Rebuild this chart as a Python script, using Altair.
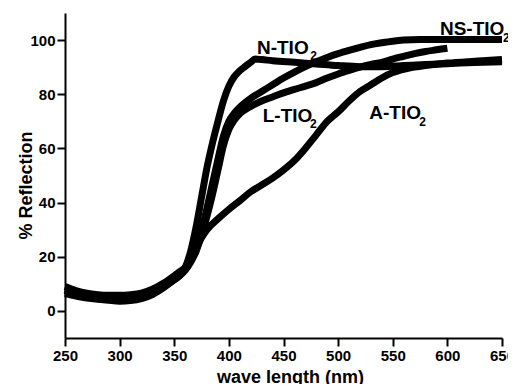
import altair as alt
import pandas as pd

# ---- data ----
wl_N = [250, 260, 270, 280, 290, 300, 310, 320, 330, 340, 350, 355, 360, 365, 370, 375, 380, 385, 390, 395,
        400, 405, 410, 415, 420, 424, 430, 440, 460, 480, 500, 520, 540, 560, 580, 600, 625, 650]
refl_N = [8.0, 6.5, 5.5, 4.8, 4.3, 4.0, 4.2, 5.0, 6.5, 8.8, 11.5, 13.0, 16.0, 22.0, 31.0, 42.0, 53.0, 62.0, 70.0, 77.5,
          83.0, 86.5, 88.7, 90.3, 91.8, 93.0, 92.8, 92.4, 91.8, 91.2, 90.6, 90.2, 90.2, 90.6, 91.0, 91.3, 91.7, 92.0]

wl_L = [250, 260, 270, 280, 290, 300, 310, 320, 330, 340, 350, 355, 360, 365, 370, 375, 380, 385, 390, 395,
        400, 405, 410, 420, 430, 440, 450, 460, 470, 480, 490, 500, 510, 520, 530, 540, 550, 560, 570, 580, 590, 600]
refl_L = [6.5, 5.5, 4.8, 4.3, 3.9, 3.6, 3.8, 4.5, 6.0, 8.5, 11.5, 13.0, 15.0, 18.0, 22.0, 28.0, 35.0, 43.0, 52.0, 61.0,
          67.0, 70.5, 72.8, 75.5, 77.5, 79.0, 80.5, 81.8, 83.0, 84.3, 86.0, 87.5, 88.8, 90.0, 91.0, 91.8, 93.0, 94.0, 95.0, 95.8, 96.4, 97.0]

wl_NS = [250, 260, 270, 280, 290, 300, 310, 320, 330, 340, 350, 355, 360, 365, 370, 375, 380, 385, 390, 395,
         400, 405, 410, 420, 430, 440, 450, 460, 470, 480, 490, 500, 510, 520, 530, 540, 550, 560, 575, 600, 625, 650]
refl_NS = [9.0, 7.5, 6.5, 6.0, 5.8, 5.8, 6.0, 6.6, 8.0, 10.2, 13.0, 14.5, 16.0, 19.0, 24.0, 30.0, 38.0, 47.0, 56.0, 64.5,
           70.0, 73.0, 75.2, 78.5, 81.0, 83.5, 86.0, 88.2, 90.2, 92.0, 93.6, 95.0, 96.2, 97.3, 98.3, 99.0, 99.6, 100.0, 100.2, 100.2, 100.2, 100.2]

wl_A = [250, 260, 270, 280, 290, 300, 310, 320, 330, 340, 350, 355, 360, 365, 370, 375, 380, 390,
        400, 410, 420, 430, 440, 450, 460, 470, 480, 490, 500, 510, 520, 530, 540, 550, 560, 570, 580, 600, 625, 650]
refl_A = [7.5, 6.2, 5.3, 4.7, 4.3, 4.2, 4.5, 5.5, 7.2, 9.5, 12.0, 14.0, 16.0, 19.0, 23.0, 27.0, 30.0, 34.0,
          37.5, 40.7, 44.0, 46.5, 49.0, 52.0, 55.5, 60.0, 65.0, 70.0, 73.5, 77.5, 81.0, 83.5, 86.0, 88.0, 89.2, 90.0, 90.6, 91.5, 92.2, 92.8]

series_names = ["N-TIO2", "L-TIO2", "NS-TIO2", "A-TIO2"]
series_x = [wl_N, wl_L, wl_NS, wl_A]
series_y = [refl_N, refl_L, refl_NS, refl_A]

# curve labels (main text and subscript), anchored in data coordinates
label_main = ["N-TIO", "L-TIO", "NS-TIO", "A-TIO"]
label_main_x = [425.7, 431.0, 593.2, 528.5]
label_main_y = [95.0, 69.6, 101.9, 71.0]
label_sub = ["2", "2", "2", "2"]
label_sub_x = [474.5, 474.3, 650.9, 574.3]
label_sub_y = [92.8, 67.5, 99.2, 68.3]

x_ticks = list(range(250, 651, 25))
y_ticks = list(range(0, 111, 10))

rows = []
for name, xs, ys in zip(series_names, series_x, series_y):
    for xv, yv in zip(xs, ys):
        rows.append({"series": name, "wl": xv, "refl": yv})
df = pd.DataFrame(rows)

lab_df = pd.DataFrame({"t": label_main, "x": label_main_x, "y": label_main_y})
sub_df = pd.DataFrame({"t": label_sub, "x": label_sub_x, "y": label_sub_y})

FONT = "Liberation Sans"

x_scale = alt.Scale(domain=[250, 650], nice=False, zero=False)
y_scale = alt.Scale(domain=[-10, 110], nice=False, zero=False)

x_axis = alt.Axis(
    values=x_ticks,
    labelExpr="datum.value % 50 === 0 ? datum.label : ''",
    tickSize={"condition": {"test": "datum.value % 50 === 0", "value": 8}, "value": 5},
    tickWidth=2, domainWidth=2, tickColor="black", domainColor="black",
    labelColor="black", labelFont=FONT, labelFontWeight="bold", labelFontSize=15,
    labelPadding=2, labelFlush=False, labelOverlap=False, grid=False,
    title="wave length (nm)", titleFont=FONT, titleFontWeight="bold", titleFontSize=18,
    titleColor="black", titleX=225, titleY=44, titleBaseline="alphabetic", titleAlign="center",
)
y_axis = alt.Axis(
    values=y_ticks,
    labelExpr="datum.value % 20 === 0 ? datum.label : ''",
    tickSize={"condition": {"test": "datum.value % 20 === 0", "value": 8}, "value": 5},
    tickWidth=2, domainWidth=2, tickColor="black", domainColor="black",
    labelColor="black", labelFont=FONT, labelFontWeight="bold", labelFontSize=15,
    labelPadding=2, labelFlush=False, labelOverlap=False, grid=False,
    title="% Reflection", titleFont=FONT, titleFontWeight="bold", titleFontSize=18,
    titleColor="black", titleX=-34, titleY=172, titleBaseline="alphabetic", titleAlign="center",
    titleAngle=270,
)

lines = alt.Chart(df).mark_line(color="black", strokeWidth=7, interpolate="monotone").encode(
    x=alt.X("wl:Q", scale=x_scale, axis=x_axis),
    y=alt.Y("refl:Q", scale=y_scale, axis=y_axis),
    detail="series:N",
    order="wl:Q",
)

labels = alt.Chart(lab_df).mark_text(
    align="left", baseline="alphabetic", font=FONT, fontWeight="bold", fontSize=19, color="black"
).encode(x=alt.X("x:Q", scale=x_scale), y=alt.Y("y:Q", scale=y_scale), text="t:N")

subs = alt.Chart(sub_df).mark_text(
    align="left", baseline="alphabetic", font=FONT, fontWeight="bold", fontSize=12, color="black"
).encode(x=alt.X("x:Q", scale=x_scale), y=alt.Y("y:Q", scale=y_scale), text="t:N")

chart = alt.layer(lines, labels, subs).properties(
    width=437, height=325,
    autosize=alt.AutoSizeParams(type="none"),
    padding={"left": 57, "top": 5, "right": 6, "bottom": 46},
    background="white",
).configure_view(stroke=None)

chart.save("out.html", embed_options={"renderer": "svg", "actions": False})
